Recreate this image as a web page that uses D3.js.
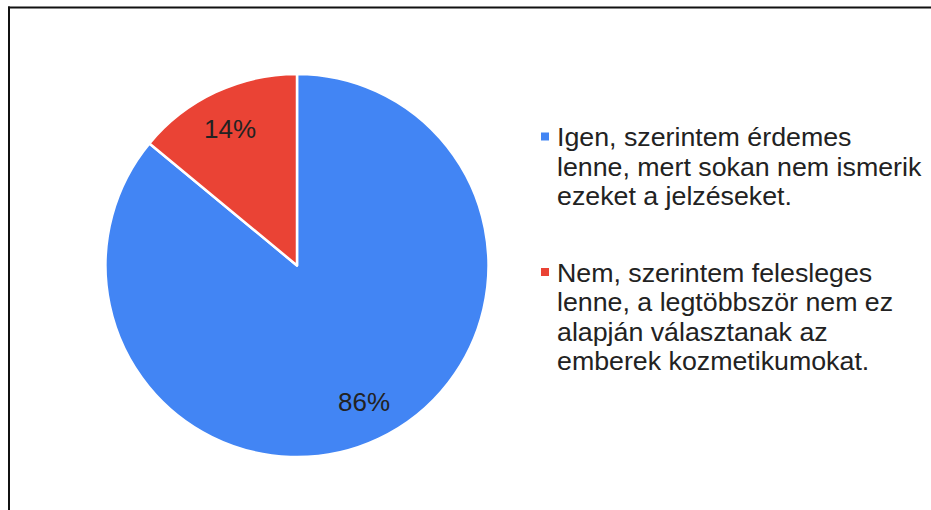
<!DOCTYPE html>
<html>
<head>
<meta charset="utf-8">
<script src="https://cdn.jsdelivr.net/npm/d3@7"></script>
<style>
  html, body { margin: 0; padding: 0; background: #fff; }
  svg { display: block; }
  text { font-family: "Liberation Sans", Arial, sans-serif; fill: #222; }
</style>
</head>
<body>
<svg id="chart" width="931" height="510"></svg>
<script>
// Survey answers and their shares (percent)
const categories = [
  "Igen, szerintem érdemes lenne, mert sokan nem ismerik ezeket a jelzéseket.",
  "Nem, szerintem felesleges lenne, a legtöbbször nem ez alapján választanak az emberek kozmetikumokat."
];
const values = [86, 14];
const colors = ["#4285F4", "#EA4335"];
// Legend text broken into lines as displayed
const legendLines = [
  ["Igen, szerintem érdemes", "lenne, mert sokan nem ismerik", "ezeket a jelzéseket."],
  ["Nem, szerintem felesleges", "lenne, a legtöbbször nem ez", "alapján választanak az", "emberek kozmetikumokat."]
];

const svg = d3.select("#chart");
const W = 931, H = 510;

// Frame lines along the top and left edge
svg.append("line").attr("x1", 8).attr("x2", W).attr("y1", 7.5).attr("y2", 7.5)
  .attr("stroke", "#111").attr("stroke-width", 2);
svg.append("line").attr("x1", 9).attr("x2", 9).attr("y1", 6.5).attr("y2", H)
  .attr("stroke", "#111").attr("stroke-width", 2);

const cx = 297, cy = 265.5, r = 191.5;
const color = d3.scaleOrdinal().domain(categories).range(colors);

const pie = d3.pie().sort(null).value(d => d.value);
const data = categories.map((c, i) => ({ name: c, value: values[i] }));
const arcs = pie(data);
const arc = d3.arc().innerRadius(0).outerRadius(r);
const total = d3.sum(values);

const g = svg.append("g").attr("transform", `translate(${cx},${cy})`);
g.selectAll("path.slice").data(arcs).join("path")
  .attr("class", "slice")
  .attr("d", arc)
  .attr("fill", d => color(d.data.name))
  .attr("stroke", "#fff")
  .attr("stroke-width", 2.5)
  .attr("stroke-linejoin", "round");

// Percentage labels placed along each slice's middle angle
const labelR = r * 0.79;
g.selectAll("text.pct").data(arcs).join("text")
  .attr("class", "pct")
  .attr("x", d => Math.sin((d.startAngle + d.endAngle) / 2) * labelR)
  .attr("y", d => -Math.cos((d.startAngle + d.endAngle) / 2) * labelR)
  .attr("dy", "0.36em")
  .attr("text-anchor", "middle")
  .attr("font-size", 25)
  .attr("transform", "scale(1.04,1)")
  .text(d => Math.round(d.data.value / total * 100) + "%");

// Legend
const legendX = 541, textX = 557;
const legendTop = [146.5, 282];
const lineH = 29.5;
const lg = svg.append("g");
categories.forEach((c, i) => {
  const base = legendTop[i];
  lg.append("rect")
    .attr("x", legendX).attr("y", base - 14)
    .attr("width", 8).attr("height", 8)
    .attr("fill", color(c));
  const t = lg.append("text")
    .attr("transform", `translate(${textX},0) scale(1.05,1)`)
    .attr("y", base)
    .attr("font-size", 25.5);
  legendLines[i].forEach((line, j) => {
    t.append("tspan").attr("x", 0).attr("y", base + j * lineH).text(line);
  });
});
</script>
</body>
</html>
